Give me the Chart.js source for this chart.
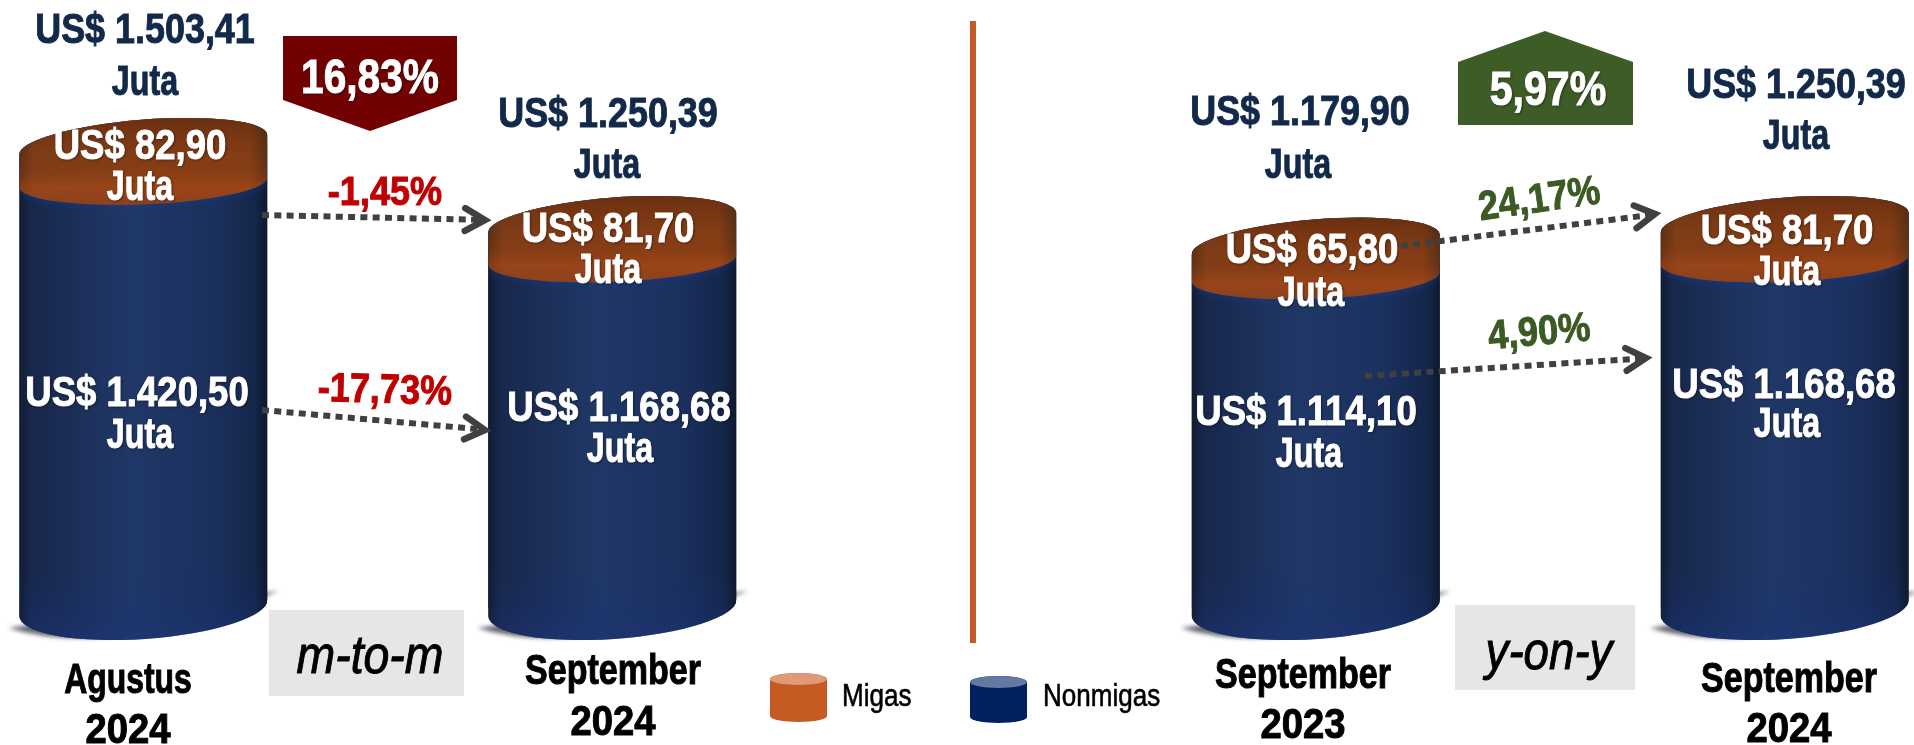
<!DOCTYPE html>
<html><head><meta charset="utf-8">
<style>html,body{margin:0;padding:0;background:#fff}canvas{display:block}</style>
<script src="https://cdn.jsdelivr.net/npm/chart.js@4"></script>
</head><body><canvas id="c" width="1914" height="745"></canvas>
<script>
// ---- data ----
const categories = [['Agustus','2024'],['September','2024'],['September','2023'],['September','2024']];
const nonmigas = [1420.50,1168.68,1114.10,1168.68];
const migas = [82.90,81.70,65.80,81.70];
const totalLabels = ['US$ 1.503,41','US$ 1.250,39','US$ 1.179,90','US$ 1.250,39'];
const migasLabels = ['US$ 82,90','US$ 81,70','US$ 65,80','US$ 81,70'];
const nonmigasLabels = ['US$ 1.420,50','US$ 1.168,68','US$ 1.114,10','US$ 1.168,68'];
const changeLabels = ['-1,45%','-17,73%','24,17%','4,90%'];
const headlineLabels = ['16,83%','5,97%'];
const periodLabels = ['m-to-m','y-on-y'];
const unit = 'Juta';
const slots = [0,2,5,7];  // category slots used; the others are empty gaps
const slotCount = 8;

// ---- build library arrays ----
const labels = Array.from({length:slotCount},()=> '');
const nonArr = Array(slotCount).fill(null), migArr = Array(slotCount).fill(null);
slots.forEach((s,i)=>{labels[s]=categories[i];nonArr[s]=nonmigas[i];migArr[s]=migas[i];});

// ---- styling ----
const FONT='"Liberation Sans",sans-serif';
const NAVY='#12294a', RED='#c00000', GREEN='#3c5a24', GREY='#404040';
const totalPos=[[145,28,145,80],[608,112,607,163],[1300,110,1298,163],[1796,83,1796,134]];
const migPos=[[140,144,140,185],[608,227,608,268],[1312,248,1311,291],[1787,229,1787,270]];
const nonPos=[[137,391,140,433],[619,406,620,447],[1306,410,1309,452],[1784,383,1787,422]];
const catPos=[[128,678,128,728],[613,669,613,720],[1303,673,1303,723],[1789,677,1789,727]];
const chgPos=[[385,190,0],[385,388,1.5],[1539,197,-8],[1539,330,-5]];
const chgCol=[RED,RED,GREEN,GREEN];
const arrows=[[262,215,488,220],[262,410,488,430],[1401,246,1658,214],[1365,376,1649,358]];
const TILT_T=Math.atan(-20/248), TILT_B=Math.atan(-17/248), BT=25, BB=31;

function txt(c,s,x,y,size,col,o={}){
  c.save();
  c.translate(x,y); if(o.rot) c.rotate(o.rot*Math.PI/180);
  c.scale(o.sx||.9,1);
  c.font=(o.style||'bold')+' '+size+'px '+FONT;
  c.textAlign=o.align||'center'; c.textBaseline='alphabetic'; c.fillStyle=col;
  if(o.shadow){c.shadowColor='rgba(0,0,0,.55)';c.shadowBlur=3;c.shadowOffsetX=1;c.shadowOffsetY=1;}
  c.fillText(s,0,size*.36);
  const hv=o.heavy===undefined?1:o.heavy;
  if(hv){c.strokeStyle=col;c.lineWidth=hv;c.shadowColor='transparent';c.strokeText(s,0,size*.36);}
  c.restore();
}
function bars(chart){
  const n=chart.getDatasetMeta(0).data, m=chart.getDatasetMeta(1).data, r=[];
  slots.forEach(s=>r.push({cx:n[s].x,a:n[s].width/2,base:n[s].base,mid:n[s].y,top:m[s].y}));
  return r;
}
function silhouette(c,b){
  c.beginPath();
  c.ellipse(b.cx,b.top,b.a/Math.cos(TILT_T),BT,TILT_T,Math.PI,2*Math.PI);
  c.ellipse(b.cx,b.base,b.a/Math.cos(TILT_B),BB,TILT_B,0,Math.PI);
  c.closePath();
}
function hGrad(c,cx,a,stops){
  const g=c.createLinearGradient(cx-a,0,cx+a,0);
  stops.forEach(s=>g.addColorStop(s[0],s[1]));return g;
}
const navyStops=[[0,'#17233f'],[.06,'#18284d'],[.45,'#203867'],[.8,'#1a2f5c'],[.95,'#15264a'],[1,'#12203a']];
const brownStops=[[0,'#5c3016'],[.06,'#84401a'],[.5,'#8a3f16'],[.93,'#8a4016'],[1,'#5a3218']];

const cylinders={id:'cylinders',
  beforeDatasetsDraw(chart){
    const c=chart.ctx;
    bars(chart).forEach(b=>{
      c.save();
      c.filter='blur(2px)';
      c.fillStyle='rgba(50,50,60,.75)';
      c.beginPath();
      c.moveTo(b.cx-b.a-11,b.base+20);
      c.quadraticCurveTo(b.cx-30,b.base+52,b.cx+b.a+11,b.base-17);
      c.quadraticCurveTo(b.cx,b.base,b.cx-b.a-11,b.base+20);
      c.fill();
      c.restore();
      c.fillStyle=hGrad(c,b.cx,b.a,navyStops);
      silhouette(c,b); c.fill();
    });
    c.save();
    c.beginPath();
    bars(chart).forEach(b=>{
      c.moveTo(b.cx-b.a,b.top);
      c.ellipse(b.cx,b.top,b.a/Math.cos(TILT_T),BT,TILT_T,Math.PI,2*Math.PI);
      c.ellipse(b.cx,b.base,b.a/Math.cos(TILT_B),BB,TILT_B,0,Math.PI);
      c.closePath();
    });
    c.clip();
  },
  afterDatasetsDraw(chart){
    const c=chart.ctx;
    c.restore();
    bars(chart).forEach(b=>{
      c.save();
      silhouette(c,b); c.clip();
      // slightly bluer band near the foot
      const f=c.createLinearGradient(0,b.base-40,0,b.base+32);
      f.addColorStop(0,'rgba(24,48,115,0)');f.addColorStop(.5,'rgba(24,48,115,.2)');f.addColorStop(1,'rgba(28,52,125,.5)');
      c.fillStyle=f;c.fillRect(b.cx-b.a,b.base-40,2*b.a,80);
      // side shading
      c.fillStyle=hGrad(c,b.cx,b.a,[[0,'rgba(8,14,30,.35)'],[.04,'rgba(8,14,30,0)'],[.95,'rgba(8,14,30,0)'],[1,'rgba(8,14,30,.4)']]);
      c.fillRect(b.cx-b.a,b.top-30,2*b.a,b.base-b.top+70);
      // migas band: from the cap down to a curved front edge
      const yb=b.mid+12, ar=b.a/Math.cos(.04);
      c.beginPath();
      c.moveTo(b.cx-b.a,b.top-40);c.lineTo(b.cx+b.a,b.top-40);
      c.ellipse(b.cx,yb,ar,22,-.04,0,Math.PI);
      c.closePath();
      c.shadowColor='rgba(20,60,140,.55)';c.shadowBlur=6;c.shadowOffsetY=2;
      c.fillStyle=hGrad(c,b.cx,b.a,brownStops);c.fill();
      c.shadowColor='transparent';c.shadowOffsetY=0;c.shadowBlur=0;
      const v=c.createLinearGradient(0,b.top-25,0,yb+22);
      v.addColorStop(0,'rgba(60,25,10,.4)');v.addColorStop(.45,'rgba(95,40,10,.12)');v.addColorStop(.8,'rgba(175,75,25,.45)');v.addColorStop(1,'rgba(150,70,35,.35)');
      c.fillStyle=v;c.fill();
      c.restore();
    });
  },
  afterDraw(chart){
    const c=chart.ctx;
    // arrows
    arrows.forEach(a=>{
      c.save();c.strokeStyle=GREY;c.lineWidth=6;c.setLineDash([7,5.3]);
      const t=Math.atan2(a[3]-a[1],a[2]-a[0]);
      c.beginPath();c.moveTo(a[0],a[1]);c.lineTo(a[2]-6*Math.cos(t),a[3]-6*Math.sin(t));c.stroke();
      c.setLineDash([]);c.lineWidth=6.5;c.lineCap='round';c.lineJoin='miter';
      c.beginPath();
      c.moveTo(a[2]-25*Math.cos(t-.46)/Math.cos(.46)*.92,a[3]-25*Math.sin(t-.46)/Math.cos(.46)*.92);
      c.lineTo(a[2]-3,a[3]);
      c.lineTo(a[2]-25*Math.cos(t+.46)/Math.cos(.46)*.92,a[3]-25*Math.sin(t+.46)/Math.cos(.46)*.92);
      c.stroke();c.restore();
    });
    // divider
    c.fillStyle='#c55a25';c.fillRect(970,21,6,622);
    // headline badges
    c.fillStyle='#720202';c.beginPath();
    [[283,36],[457,36],[457,100],[370,131],[283,100]].forEach((p,i)=>i?c.lineTo(p[0],p[1]):c.moveTo(p[0],p[1]));c.closePath();c.fill();
    c.fillStyle='#3d5c26';c.beginPath();
    [[1545,31],[1633,62],[1633,125],[1458,125],[1458,62]].forEach((p,i)=>i?c.lineTo(p[0],p[1]):c.moveTo(p[0],p[1]));c.closePath();c.fill();
    txt(c,headlineLabels[0],370,75,49,'#fff',{shadow:1,sx:.83});
    txt(c,headlineLabels[1],1548,87,49,'#fff',{shadow:1,sx:.84});
    // period boxes
    c.fillStyle='#e7e6e6';c.fillRect(269,610,195,86);c.fillRect(1455,605,180,85);
    txt(c,periodLabels[0],370,654,54,'#000',{style:'italic',sx:.86,heavy:1});
    txt(c,periodLabels[1],1549,650,54,'#000',{style:'italic',sx:.845,heavy:1});
    // texts
    const LETTER=.75, AMOUNT=.85;
    slots.forEach((s,i)=>{
      const t=totalPos[i],m=migPos[i],n=nonPos[i],k=catPos[i],h=chgPos[i];
      txt(c,totalLabels[i],t[0],t[1],43,NAVY,{sx:.835});
      txt(c,unit,t[2],t[3],43,NAVY,{sx:LETTER});
      txt(c,migasLabels[i],m[0],m[1],43,'#fff',{shadow:1,sx:AMOUNT});
      txt(c,unit,m[2],m[3],43,'#fff',{shadow:1,sx:LETTER});
      txt(c,nonmigasLabels[i],n[0],n[1],43,'#fff',{shadow:1,sx:AMOUNT});
      txt(c,unit,n[2],n[3],43,'#fff',{shadow:1,sx:LETTER});
      txt(c,categories[i][0],k[0],k[1],42,'#000',{sx:i?.81:.76});
      txt(c,categories[i][1],k[2],k[3],42,'#000',{sx:.91});
      txt(c,changeLabels[i],h[0],h[1],41,chgCol[i],{rot:h[2],sx:.88});
    });
    // legend
    const ds=chart.data.datasets;
    [[ds[1],770,673,722,'#e09a78',842,695],[ds[0],970,676,723,'#6478a2',1043,695]].forEach(l=>{
      const [d,x,y0,y1,cap,tx,ty]=l, cx=x+28.5;
      c.fillStyle=d.legendColor;c.beginPath();
      c.ellipse(cx,y0+6,28.5,6,0,Math.PI,2*Math.PI);
      c.ellipse(cx,y1-6,28.5,6,0,0,Math.PI);c.closePath();c.fill();
      c.fillStyle=cap;c.beginPath();c.ellipse(cx,y0+6,28.5,6,0,0,2*Math.PI);c.fill();
      txt(c,d.label,tx,ty,31,'#000',{style:'normal',align:'left',sx:.84,heavy:.6});
    });
  }
};

function barFill(stops,fallback){
  return ctx=>{
    if(ctx.type!=='data') return fallback;
    const x=ctx.chart.scales.x.getPixelForValue(ctx.index);
    if(!isFinite(x)) return fallback;
    return hGrad(ctx.chart.ctx,x,124,stops);
  };
}
new Chart(document.getElementById('c'),{
  type:'bar',
  data:{labels,datasets:[
    {label:'Nonmigas',data:nonArr,legendColor:'#002060',backgroundColor:barFill(navyStops,'#1b3162'),borderWidth:0},
    {label:'Migas',data:migArr,legendColor:'#c55a22',backgroundColor:barFill(brownStops,'#8a3f16'),borderWidth:0}
  ]},
  options:{
    responsive:false,animation:false,
    layout:{padding:{left:26,right:12,top:115,bottom:137}},
    datasets:{bar:{barThickness:248}},
    plugins:{legend:{display:false},tooltip:{enabled:false},title:{display:false}},
    scales:{
      x:{stacked:true,display:false,grid:{display:false}},
      y:{stacked:true,display:false,min:0,max:1600,grid:{display:false}}
    }
  },
  plugins:[cylinders]
});
</script></body></html>
